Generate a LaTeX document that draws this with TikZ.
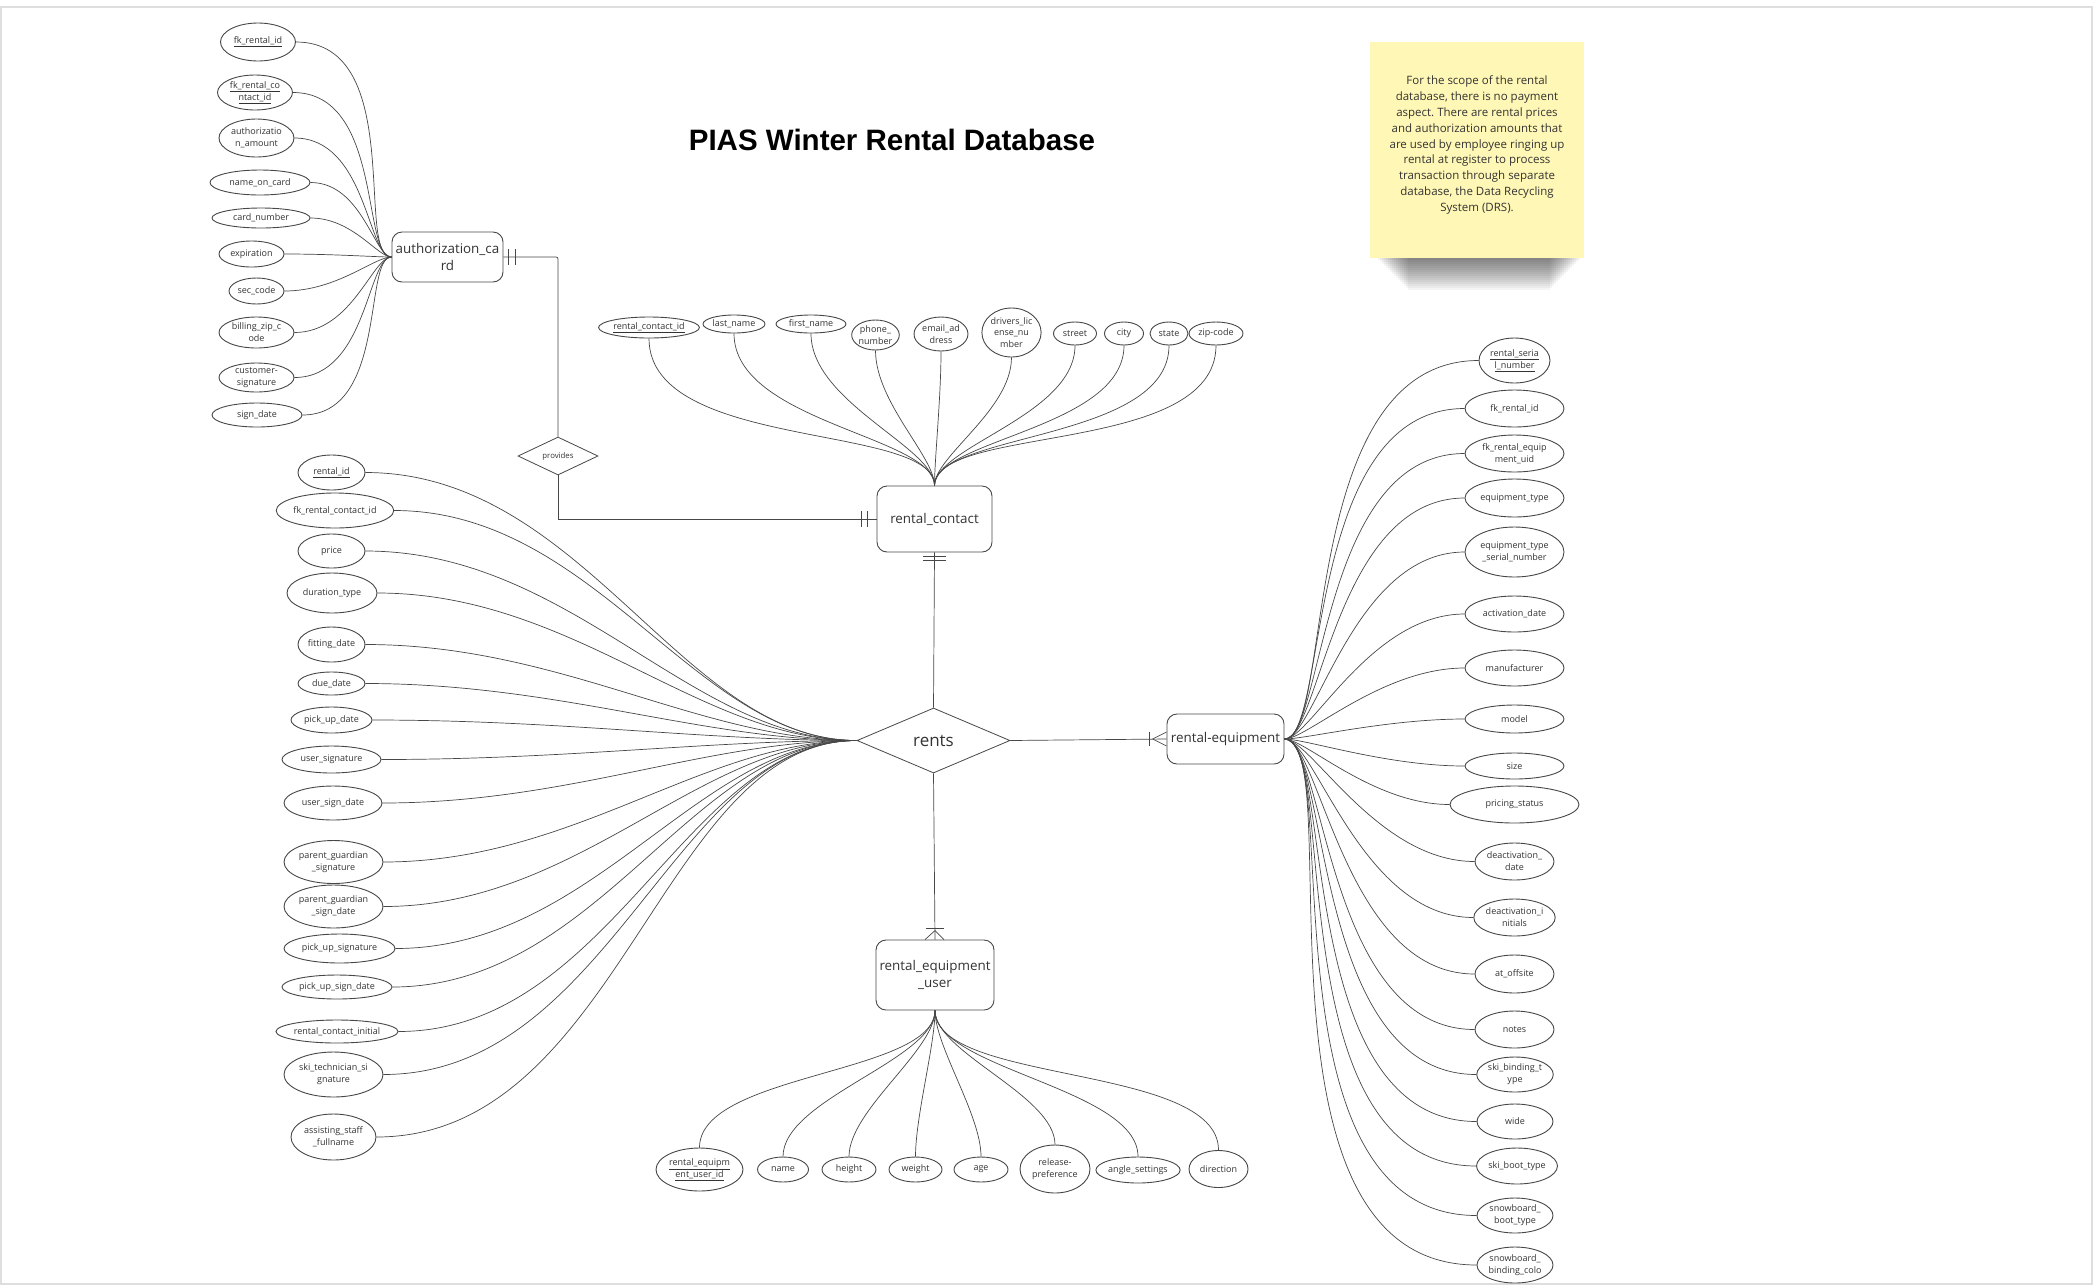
\documentclass[tikz,border=0pt]{standalone}
\usepackage{fontspec}
\setmainfont{Open Sans}
\newfontfamily\titlefont{Liberation Sans}
\usepackage{tikz}
\usetikzlibrary{shapes}
\frenchspacing
\definecolor{erline}{HTML}{474747}
\definecolor{ertext}{HTML}{333333}
\definecolor{notefill}{HTML}{FFF7B5}
\tikzstyle{entity} = [rectangle, draw=erline, fill=white, text=ertext,
    align=center, rounded corners=10pt, inner sep=0pt, line width=0.9pt,
    font=\fontsize{13.4}{17.7}\selectfont]
\tikzstyle{attr} = [ellipse, draw=erline, fill=white, text=ertext,
    align=center, inner sep=0pt, line width=0.9pt, font=\fontsize{9}{11.8}\selectfont]
\tikzstyle{relation} = [diamond, draw=erline, fill=white, text=ertext,
    inner sep=0pt, line width=0.8pt]
\tikzstyle{note} = [rectangle, fill=notefill, text=ertext, align=center,
    font=\fontsize{11.5}{15.8}\selectfont]
\tikzstyle{line} = [draw=erline, line width=0.7pt]
\tikzset{
  dims/.style 2 args={minimum width=#1pt, minimum height=#2pt},
  fancard/.style={out=0, in=180, out looseness=1.2, in looseness=0.4},
  fancontact/.style={out=-90, in=90, out looseness=0.9, in looseness=0.5},
  fanrents/.style={out=0, in=180, out looseness=1, in looseness=0.8},
  fanequip/.style={out=180, in=0, out looseness=1.1, in looseness=0.3},
  fanuser/.style={out=90, in=-90, out looseness=0.7, in looseness=0.6}
}

\begin{document}
\begin{tikzpicture}[x=1pt, y=-1pt]
   \useasboundingbox (0,0) rectangle (2094,1286);
   \draw [black!13, line width=1.5pt] (1,7) rectangle (2092,1284);
   \node [font=\titlefont\bfseries\fontsize{29.5}{34}\selectfont] (title) at (892,140) {PIAS Winter Rental Database};
   % sticky note
   \foreach \i in {1,...,16}
     \fill [black, opacity=0.04] (1376+\i*2,258) rectangle (1582-\i*2,258+2*\i);
   \node [note, dims={214}{216}] (note) at (1477,150) {};
   \node [note] (note_text) at (1477,145) {For the scope of the rental\\database, there is no payment\\aspect. There are rental prices\\and authorization amounts that\\are used by employee ringing up\\rental at register to process\\transaction through separate\\database, the Data Recycling\\System (DRS).};
   % entities and relationships
   \node [entity, dims={111}{50}] (auth_card) at (447.5,257) {authorization\_ca\\rd};
   \node [relation, dims={80}{38}, aspect=2.1, font=\fontsize{7.8}{9}\selectfont] (provides) at (558,456) {provides};
   \node [entity, dims={115}{66}] (rental_contact) at (934.5,519) {rental\_contact};
   \node [relation, dims={153}{65}, aspect=2.35, font=\fontsize{17}{20}\selectfont] (rents) at (933.5,740.5) {rents};
   \node [entity, dims={117}{50}] (rental_equipment) at (1225.5,739) {rental-equipment};
   \node [entity, dims={118}{70}] (rental_equipment_user) at (935,975) {rental\_equipment\\\_user};
   % authorization_card attributes
   \node [attr, dims={75}{38}] (ac_fk_rental_id) at (258,42) {\underline{fk\_rental\_id}};
   \node [attr, dims={75}{35}] (ac_fk_contact_id) at (255,92.5) {\underline{fk\_rental\_co}\\\underline{ntact\_id}};
   \node [attr, dims={75}{38}] (ac_amount) at (256.5,138) {authorizatio\\n\_amount};
   \node [attr, dims={100}{25}] (ac_name) at (260,182.5) {name\_on\_card};
   \node [attr, dims={98}{20}] (ac_number) at (261,218) {card\_number};
   \node [attr, dims={65}{26}] (ac_expiration) at (251.5,254) {expiration};
   \node [attr, dims={55}{26}] (ac_sec_code) at (256.5,291) {sec\_code};
   \node [attr, dims={75}{31}] (ac_zip) at (256.5,332.5) {billing\_zip\_c\\ode};
   \node [attr, dims={75}{29}] (ac_signature) at (256.5,377.5) {customer-\\signature};
   \node [attr, dims={90}{24}] (ac_sign_date) at (257,415) {sign\_date};
   % rental_contact attributes
   \node [attr, dims={98}{21}] (rc_id) at (649,327.5) {\underline{rental\_contact\_id}};
   \node [attr, dims={62}{18}] (rc_last) at (734,324) {last\_name};
   \node [attr, dims={70}{18}] (rc_first) at (811,324) {first\_name};
   \node [attr, dims={47}{30}] (rc_phone) at (875.5,335) {phone\_\\number};
   \node [attr, dims={54}{34}] (rc_email) at (941,334) {email\_ad\\dress};
   \node [attr, dims={59}{49}] (rc_license) at (1011.5,332.5) {drivers\_lic\\ense\_nu\\mber};
   \node [attr, dims={43}{23}] (rc_street) at (1075,333.5) {street};
   \node [attr, dims={39}{23}] (rc_city) at (1124,333.5) {city};
   \node [attr, dims={38}{23}] (rc_state) at (1169,333.5) {state};
   \node [attr, dims={54}{23}] (rc_zip) at (1216,333.5) {zip-code};
   % rents attributes
   \node [attr, dims={67}{35}] (rn_id) at (331.5,472.5) {\underline{rental\_id}};
   \node [attr, dims={116}{35}] (rn_contact_id) at (335,510.5) {fk\_rental\_contact\_id};
   \node [attr, dims={67}{34}] (rn_price) at (331.5,551) {price};
   \node [attr, dims={90}{40}] (rn_duration) at (332,593) {duration\_type};
   \node [attr, dims={67}{35}] (rn_fitting) at (331.5,644.5) {fitting\_date};
   \node [attr, dims={67}{23}] (rn_due) at (331.5,683.5) {due\_date};
   \node [attr, dims={81}{26}] (rn_pick_up) at (331.5,720) {pick\_up\_date};
   \node [attr, dims={99}{27}] (rn_user_sig) at (331.5,759.5) {user\_signature};
   \node [attr, dims={98}{34}] (rn_user_date) at (333,803) {user\_sign\_date};
   \node [attr, dims={99}{43}] (rn_parent_sig) at (333.5,862) {parent\_guardian\\\_signature};
   \node [attr, dims={99}{43}] (rn_parent_date) at (333.5,906.5) {parent\_guardian\\\_sign\_date};
   \node [attr, dims={111}{29}] (rn_pick_sig) at (339.5,948.5) {pick\_up\_signature};
   \node [attr, dims={110}{24}] (rn_pick_date) at (337,987) {pick\_up\_sign\_date};
   \node [attr, dims={122}{23}] (rn_initial) at (337,1031.5) {rental\_contact\_initial};
   \node [attr, dims={99}{45}] (rn_technician) at (333.5,1074.5) {ski\_technician\_si\\gnature};
   \node [attr, dims={85}{46}] (rn_staff) at (333.5,1137) {assisting\_staff\\\_fullname};
   % rental-equipment attributes
   \node [attr, dims={71}{45}] (re_serial) at (1514.5,360.5) {\underline{rental\_seria}\\\underline{l\_number}};
   \node [attr, dims={99}{37}] (re_fk_rental_id) at (1514.5,408.5) {fk\_rental\_id};
   \node [attr, dims={99}{37}] (re_fk_uid) at (1514.5,453.5) {fk\_rental\_equip\\ment\_uid};
   \node [attr, dims={99}{38}] (re_type) at (1514.5,498) {equipment\_type};
   \node [attr, dims={99}{50}] (re_type_serial) at (1514.5,552) {equipment\_type\\\_serial\_number};
   \node [attr, dims={99}{36}] (re_activation) at (1514.5,614) {activation\_date};
   \node [attr, dims={99}{36}] (re_manufacturer) at (1514.5,668) {manufacturer};
   \node [attr, dims={99}{28}] (re_model) at (1514.5,719) {model};
   \node [attr, dims={99}{26}] (re_size) at (1514.5,766) {size};
   \node [attr, dims={129}{37}] (re_pricing) at (1514.5,804.5) {pricing\_status};
   \node [attr, dims={79}{37}] (re_deact_date) at (1514.5,861.5) {deactivation\_\\date};
   \node [attr, dims={79}{37}] (re_deact_init) at (1514.5,917.5) {deactivation\_i\\nitials};
   \node [attr, dims={79}{38}] (re_offsite) at (1514.5,974) {at\_offsite};
   \node [attr, dims={79}{37}] (re_notes) at (1514.5,1029.5) {notes};
   \node [attr, dims={76}{35}] (re_binding) at (1515,1074.5) {ski\_binding\_t\\ype};
   \node [attr, dims={76}{35}] (re_wide) at (1515,1121.5) {wide};
   \node [attr, dims={80}{36}] (re_ski_boot) at (1517,1166) {ski\_boot\_type};
   \node [attr, dims={76}{35}] (re_sb_boot) at (1515,1215.5) {snowboard\_\\boot\_type};
   \node [attr, dims={76}{36}] (re_sb_binding) at (1515,1265) {snowboard\_\\binding\_colo};
   % rental_equipment_user attributes
   \node [attr, dims={87}{43}] (ru_id) at (699.5,1169.5) {\underline{rental\_equipm}\\\underline{ent\_user\_id}};
   \node [attr, dims={51}{25}] (ru_name) at (783,1169.5) {name};
   \node [attr, dims={54}{25}] (ru_height) at (849,1169.5) {height};
   \node [attr, dims={53}{25}] (ru_weight) at (915.5,1169.5) {weight};
   \node [attr, dims={54}{25}] (ru_age) at (981,1169.5) {age};
   \node [attr, dims={70}{48}] (ru_release) at (1055,1169) {release-\\preference};
   \node [attr, dims={84}{26}] (ru_angle) at (1138,1170) {angle\_settings};
   \node [attr, dims={59}{37}] (ru_direction) at (1218.5,1169) {direction};
   % relationship lines
   \path [line, rounded corners=2pt] (auth_card.east) -| (provides.north);
   \path [line] (provides.south) |- (rental_contact.west);
   \path [line] (rental_contact.south) -- (rents.north);
   \path [line] (rents.east) -- (rental_equipment.west);
   \path [line] (rents.south) -- (rental_equipment_user.north);
   % cardinality marks
   \path [line] ([xshift=5pt]auth_card.east) ++(0,-8) -- ++(0,16);
   \path [line] ([xshift=12pt]auth_card.east) ++(0,-8) -- ++(0,16);
   \path [line] ([xshift=-9pt]rental_contact.west) ++(0,-8) -- ++(0,16);
   \path [line] ([xshift=-15pt]rental_contact.west) ++(0,-8) -- ++(0,16);
   \path [line] ([yshift=-4pt]rental_contact.south) ++(-11.5,0) -- ++(23,0);
   \path [line] ([yshift=-8pt]rental_contact.south) ++(-11.5,0) -- ++(23,0);
   \path [line] ([xshift=-17pt]rental_equipment.west) ++(0,-7) -- ++(0,14);
   \path [line] ([yshift=7pt]rental_equipment.west) -- ([xshift=-14pt]rental_equipment.west) -- ([yshift=-7pt]rental_equipment.west);
   \path [line] ([yshift=11pt]rental_equipment_user.north) ++(-9,0) -- ++(18,0);
   \path [line] ([xshift=-10pt]rental_equipment_user.north) -- ([yshift=9pt]rental_equipment_user.north) -- ([xshift=9pt]rental_equipment_user.north);
   % authorization_card attribute lines
   \path [line] (ac_fk_rental_id.east) to [fancard] (auth_card.west);
   \path [line] (ac_fk_contact_id.east) to [fancard] (auth_card.west);
   \path [line] (ac_amount.east) to [fancard] (auth_card.west);
   \path [line] (ac_name.east) to [fancard] (auth_card.west);
   \path [line] (ac_number.east) to [fancard] (auth_card.west);
   \path [line] (ac_expiration.east) to [fancard] (auth_card.west);
   \path [line] (ac_sec_code.east) to [fancard] (auth_card.west);
   \path [line] (ac_zip.east) to [fancard] (auth_card.west);
   \path [line] (ac_signature.east) to [fancard] (auth_card.west);
   \path [line] (ac_sign_date.east) to [fancard] (auth_card.west);
   % rental_contact attribute lines
   \path [line] (rc_id.south) to [fancontact] (rental_contact.north);
   \path [line] (rc_last.south) to [fancontact] (rental_contact.north);
   \path [line] (rc_first.south) to [fancontact] (rental_contact.north);
   \path [line] (rc_phone.south) to [fancontact] (rental_contact.north);
   \path [line] (rc_email.south) to [fancontact] (rental_contact.north);
   \path [line] (rc_license.south) to [fancontact] (rental_contact.north);
   \path [line] (rc_street.south) to [fancontact] (rental_contact.north);
   \path [line] (rc_city.south) to [fancontact] (rental_contact.north);
   \path [line] (rc_state.south) to [fancontact] (rental_contact.north);
   \path [line] (rc_zip.south) to [fancontact] (rental_contact.north);
   % rents attribute lines
   \path [line] (rn_id.east) to [fanrents] (rents.west);
   \path [line] (rn_contact_id.east) to [fanrents] (rents.west);
   \path [line] (rn_price.east) to [fanrents] (rents.west);
   \path [line] (rn_duration.east) to [fanrents] (rents.west);
   \path [line] (rn_fitting.east) to [fanrents] (rents.west);
   \path [line] (rn_due.east) to [fanrents] (rents.west);
   \path [line] (rn_pick_up.east) to [fanrents] (rents.west);
   \path [line] (rn_user_sig.east) to [fanrents] (rents.west);
   \path [line] (rn_user_date.east) to [fanrents] (rents.west);
   \path [line] (rn_parent_sig.east) to [fanrents] (rents.west);
   \path [line] (rn_parent_date.east) to [fanrents] (rents.west);
   \path [line] (rn_pick_sig.east) to [fanrents] (rents.west);
   \path [line] (rn_pick_date.east) to [fanrents] (rents.west);
   \path [line] (rn_initial.east) to [fanrents] (rents.west);
   \path [line] (rn_technician.east) to [fanrents] (rents.west);
   \path [line] (rn_staff.east) to [fanrents] (rents.west);
   % rental-equipment attribute lines
   \path [line] (re_serial.west) to [fanequip] (rental_equipment.east);
   \path [line] (re_fk_rental_id.west) to [fanequip] (rental_equipment.east);
   \path [line] (re_fk_uid.west) to [fanequip] (rental_equipment.east);
   \path [line] (re_type.west) to [fanequip] (rental_equipment.east);
   \path [line] (re_type_serial.west) to [fanequip] (rental_equipment.east);
   \path [line] (re_activation.west) to [fanequip] (rental_equipment.east);
   \path [line] (re_manufacturer.west) to [fanequip] (rental_equipment.east);
   \path [line] (re_model.west) to [fanequip] (rental_equipment.east);
   \path [line] (re_size.west) to [fanequip] (rental_equipment.east);
   \path [line] (re_pricing.west) to [fanequip] (rental_equipment.east);
   \path [line] (re_deact_date.west) to [fanequip] (rental_equipment.east);
   \path [line] (re_deact_init.west) to [fanequip] (rental_equipment.east);
   \path [line] (re_offsite.west) to [fanequip] (rental_equipment.east);
   \path [line] (re_notes.west) to [fanequip] (rental_equipment.east);
   \path [line] (re_binding.west) to [fanequip] (rental_equipment.east);
   \path [line] (re_wide.west) to [fanequip] (rental_equipment.east);
   \path [line] (re_ski_boot.west) to [fanequip] (rental_equipment.east);
   \path [line] (re_sb_boot.west) to [fanequip] (rental_equipment.east);
   \path [line] (re_sb_binding.west) to [fanequip] (rental_equipment.east);
   % rental_equipment_user attribute lines
   \path [line] (ru_id.north) to [fanuser] (rental_equipment_user.south);
   \path [line] (ru_name.north) to [fanuser] (rental_equipment_user.south);
   \path [line] (ru_height.north) to [fanuser] (rental_equipment_user.south);
   \path [line] (ru_weight.north) to [fanuser] (rental_equipment_user.south);
   \path [line] (ru_age.north) to [fanuser] (rental_equipment_user.south);
   \path [line] (ru_release.north) to [fanuser] (rental_equipment_user.south);
   \path [line] (ru_angle.north) to [fanuser] (rental_equipment_user.south);
   \path [line] (ru_direction.north) to [fanuser] (rental_equipment_user.south);
\end{tikzpicture}
\end{document}
